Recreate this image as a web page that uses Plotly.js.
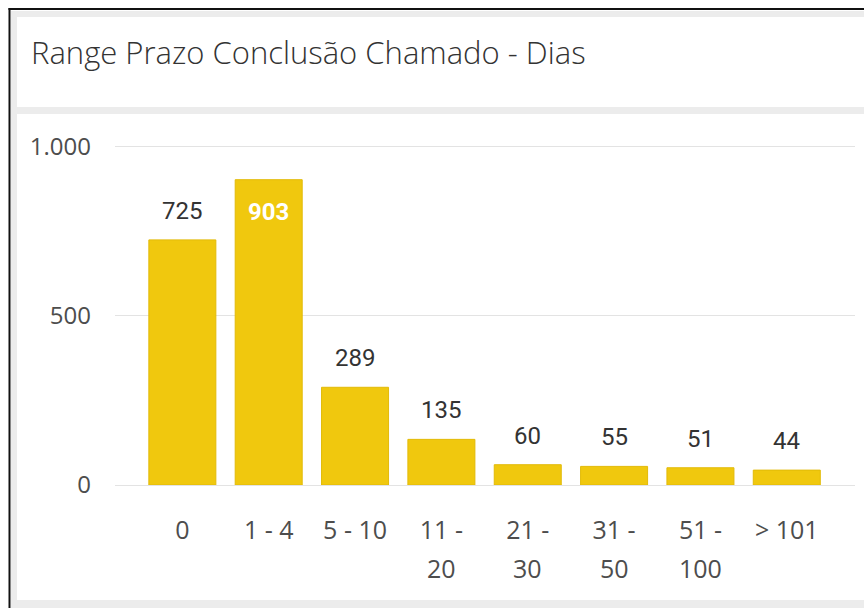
<!DOCTYPE html>
<html>
<head>
<meta charset="utf-8">
<script src="https://cdn.plot.ly/plotly-3.0.1.min.js"></script>
<style>
  html, body { margin: 0; padding: 0; background: #ffffff; }
  #chart { width: 864px; height: 608px; }
</style>
</head>
<body>
<div id="chart"></div>
<script>
// ---- data ----
const categories = ['0', '1 - 4', '5 - 10', '11 - 20', '21 - 30', '31 - 50', '51 - 100', '> 101'];
const counts = [725, 903, 289, 135, 60, 55, 51, 44];
const tickLine1 = ['0', '1 - 4', '5 - 10', '11 -', '21 -', '31 -', '51 -', '> 101'];
const tickLine2 = ['', '', '', '20', '30', '50', '100', ''];
const yTickVals = [0, 500, 1000];
const labelInside = [false, true, false, false, false, false, false, false];
const titleText = 'Range Prazo Conclusão Chamado - Dias';

// ---- layout geometry (pixels) ----
const W = 864, H = 608;
const M = { l: 115, r: 9, t: 130, b: 123 };
const PW = W - M.l - M.r, PH = H - M.t - M.b;
const fx = px => (px - M.l) / PW;
const fy = py => (H - M.b - py) / PH;

const BAR = '#F0C80E';
const GRAY_BAND = '#ececec';

const trace = {
  type: 'bar',
  x: categories,
  y: counts,
  marker: { color: BAR, line: { color: '#E2BA08', width: 1 } },
  hoverinfo: 'x+y'
};

const annotations = [];
categories.forEach((c, i) => {
  if (labelInside[i]) {
    annotations.push({
      x: c, y: counts[i], xref: 'x', yref: 'y',
      text: '<b>' + counts[i] + '</b>', showarrow: false,
      yanchor: 'top', yshift: -16,
      font: { family: 'Roboto, "DejaVu Sans Condensed", sans-serif', size: 24, color: '#ffffff' }
    });
  } else {
    annotations.push({
      x: c, y: counts[i], xref: 'x', yref: 'y',
      text: String(counts[i]), showarrow: false,
      yanchor: 'bottom', yshift: 13,
      font: { family: 'Roboto, "DejaVu Sans Condensed", sans-serif', size: 24, color: '#333333' }
    });
  }
  if (tickLine2[i]) {
    annotations.push({
      x: c, y: 0, xref: 'x', yref: 'paper',
      text: tickLine2[i], showarrow: false,
      yanchor: 'middle', yshift: -83,
      font: { family: '"Open Sans", "Noto Sans", sans-serif', size: 25, color: '#4d4d4d' }
    });
  }
});

const bandRect = (x0, y0, x1, y1) => ({
  type: 'rect', xref: 'paper', yref: 'paper', layer: 'below',
  x0: fx(x0), x1: fx(x1), y0: fy(y0), y1: fy(y1),
  fillcolor: GRAY_BAND, line: { width: 0 }
});

const shapes = [
  bandRect(11, 11, 17, 608),
  bandRect(11, 11, 864, 17),
  bandRect(11, 107, 864, 114),
  bandRect(11, 600, 864, 608),
  { type: 'line', xref: 'paper', yref: 'paper', x0: fx(9.5), x1: fx(9.5), y0: fy(8), y1: fy(608), line: { color: '#111111', width: 2 } },
  { type: 'line', xref: 'paper', yref: 'paper', x0: fx(8.5), x1: fx(864), y0: fy(9), y1: fy(9), line: { color: '#111111', width: 2 } }
];

const layout = {
  width: W, height: H,
  margin: M,
  paper_bgcolor: '#ffffff',
  plot_bgcolor: '#ffffff',
  separators: ',.',
  showlegend: false,
  bargap: 0.224,
  title: {
    text: titleText,
    xref: 'container', yref: 'container',
    x: 31 / W, xanchor: 'left',
    y: 1 - 53 / H, yanchor: 'middle',
    font: { family: '"Open Sans", "Noto Sans", sans-serif', size: 31, color: '#333333', weight: 300 }
  },
  xaxis: {
    type: 'category',
    range: [-0.78, 7.79],
    tickvals: categories,
    ticktext: tickLine1,
    ticks: '',
    showgrid: false,
    showline: false,
    zeroline: false,
    ticklabelstandoff: 28,
    tickfont: { family: '"Open Sans", "Noto Sans", sans-serif', size: 25, color: '#4d4d4d' },
    fixedrange: true
  },
  yaxis: {
    range: [0, 1050],
    tickvals: yTickVals,
    tickformat: ',d',
    ticks: '',
    showgrid: true,
    gridcolor: '#e3e3e3',
    gridwidth: 1,
    zeroline: true,
    zerolinecolor: '#e3e3e3',
    zerolinewidth: 1,
    showline: false,
    ticklabelstandoff: 23,
    tickfont: { family: '"Open Sans", "Noto Sans", sans-serif', size: 24, color: '#4d4d4d' },
    fixedrange: true
  },
  annotations: annotations,
  shapes: shapes
};

Plotly.newPlot('chart', [trace], layout, { displayModeBar: false, staticPlot: true });
</script>
</body>
</html>
